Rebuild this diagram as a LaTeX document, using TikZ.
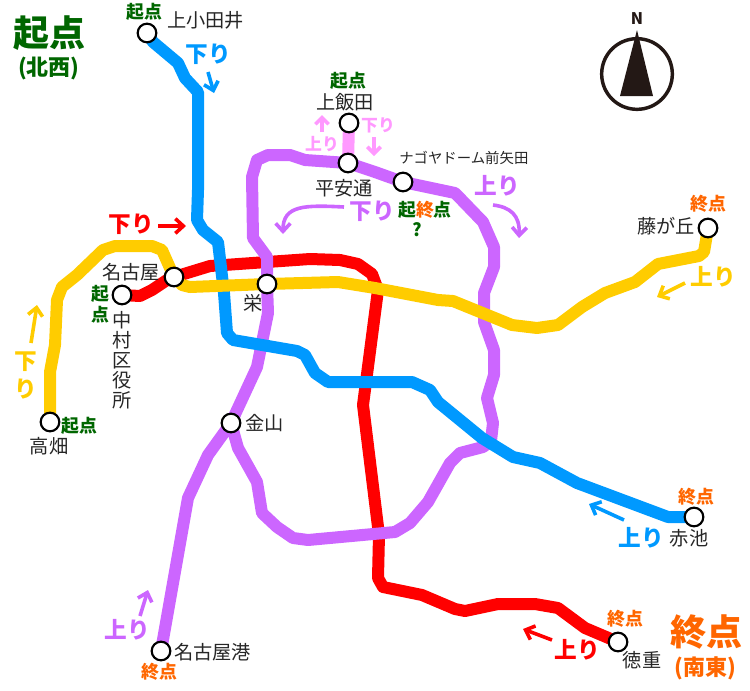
\documentclass[tikz,border=0pt]{standalone}
\usepackage{fontspec}
\setmainfont{Noto Sans CJK JP}
\usepackage{xcolor}
\usetikzlibrary{arrows.meta}
\definecolor{lineblue}{HTML}{0099FF}
\definecolor{linered}{HTML}{FF0000}
\definecolor{lineyellow}{HTML}{FFCC00}
\definecolor{linepurple}{HTML}{CC66FF}
\definecolor{linepink}{HTML}{FF99FF}
\definecolor{startgreen}{HTML}{006600}
\definecolor{endorange}{HTML}{FF6600}
\definecolor{compass}{HTML}{231815}
\tikzset{
	track/.style={line width=9pt, line join=round},
	station/.style={circle, draw=black, fill=white, line width=1.6pt, minimum size=14pt, inner sep=0pt},
	stname/.style={font=\fontsize{14.4}{15}\selectfont, text=black!85, inner sep=0pt},
	startmark/.style={font=\fontsize{13.4}{14}\selectfont\bfseries, text=startgreen, inner sep=0pt},
	endmark/.style={font=\fontsize{13.4}{14}\selectfont\bfseries, text=endorange, inner sep=0pt},
	dirtext/.style={font=\fontsize{17}{18}\selectfont\bfseries, inner sep=0pt},
	dirarrow/.style={line width=2.7pt, -{Straight Barb[length=6pt,width=11pt,line width=2.7pt]}},
}
\begin{document}
\begin{tikzpicture}[x=0.75pt, y=-0.75pt]
	\useasboundingbox (0,0) rectangle (750,690);
	% stations
	\coordinate (kamiotai) at (147,33);
	\coordinate (kamiiida) at (349,123);
	\coordinate (heiando) at (348,163);
	\coordinate (domemae) at (403,182);
	\coordinate (fujigaoka) at (708,228);
	\coordinate (nagoya) at (174,277);
	\coordinate (sakae) at (267,284);
	\coordinate (nakamura) at (122,295);
	\coordinate (takabata) at (50,422);
	\coordinate (kanayama) at (231,423);
	\coordinate (akaike) at (694,517);
	\coordinate (tokushige) at (618,642);
	\coordinate (minato) at (161,651);
	% red
	\draw[track, linered] (nakamura) -- (140,296) -- (152,290) -- (167,280) -- (nagoya) -- (210,266) -- (267,262) -- (310,259)
		-- (340,260) -- (358,264) -- (372,274) -- (378,290) -- (363,405) -- (379,535) -- (378,578) -- (383,587) -- (422,595)
		-- (455,609) -- (465,611) -- (498,604) -- (535,604) -- (558,608) -- (585,628) -- (tokushige);
	% purple
	\draw[track, linepink] (kamiiida) -- (heiando);
	\draw[track, linepurple] (minato) -- (188,498) -- (208,455) -- (kanayama) -- (257,367) -- (268,313) -- (sakae) -- (267,257)
		-- (253,238) -- (252,177) -- (257,160) -- (268,155) -- (290,155) -- (305,160) -- (heiando) -- (375,172) -- (domemae)
		-- (455,193) -- (483,222) -- (494,247) -- (494,267) -- (484,293) -- (484,322) -- (494,350) -- (494,375) -- (487,398)
		-- (493,423) -- (491,441) -- (483,447) -- (460,453) -- (450,463) -- (428,502) -- (410,523) -- (395,532) -- (308,540)
		-- (293,538) -- (277,527) -- (262,513) -- (257,482) -- (238,448) -- (kanayama);
	% blue
	\draw[track, lineblue] (kamiotai) -- (153,42) -- (178,63) -- (185,78) -- (198,92) -- (198,190) -- (197,220) -- (203,230)
		-- (218,242) -- (224,293) -- (227,333) -- (233,340) -- (297,351) -- (305,355) -- (315,373) -- (328,382) -- (412,382)
		-- (430,390) -- (438,402) -- (482,438) -- (513,457) -- (540,463) -- (577,483) -- (668,517) -- (akaike);
	% yellow
	\draw[track, lineyellow] (fujigaoka) -- (704,252) -- (699,256) -- (658,264) -- (635,282) -- (605,293) -- (582,307) -- (558,325)
		-- (537,328) -- (512,325) -- (453,301) -- (438,300) -- (375,288) -- (338,282) -- (sakae) -- (190,287) -- (182,285)
		-- (nagoya) -- (162,250) -- (152,246) -- (115,246) -- (103,250) -- (77,275) -- (62,287) -- (57,300) -- (55,345)
		-- (50,372) -- (takabata);
	\foreach \st in {kamiotai,kamiiida,heiando,domemae,fujigaoka,nagoya,sakae,nakamura,takabata,kanayama,akaike,tokushige,minato}
		\node[station] (st-\st) at (\st) {};
	% station names
	\node[stname, anchor=west] (n-kamiotai) at (167,20) {上小田井};
	\node[stname] (n-kamiiida) at (345,102) {上飯田};
	\node[stname] (n-heiando) at (344,188) {平安通};
	\node[stname, anchor=west, font=\fontsize{10.8}{11}\selectfont] (n-domemae) at (399,158) {ナゴヤドーム前矢田};
	\node[stname, anchor=east] (n-fujigaoka) at (695,226) {藤が丘};
	\node[stname] (n-nagoya) at (131,272) {名古屋};
	\node[stname] (n-sakae) at (253,303) {栄};
	\node[stname, align=center, font=\fontsize{14.4}{15}\selectfont] (n-nakamura) at (122,360) {中\\村\\区\\役\\所};
	\node[stname] (n-takabata) at (49,446) {高畑};
	\node[stname, anchor=west] (n-kanayama) at (245,423) {金山};
	\node[stname] (n-akaike) at (689,538) {赤池};
	\node[stname] (n-tokushige) at (642,660) {徳重};
	\node[stname, anchor=west] (n-minato) at (174,652) {名古屋港};
	% start and end marks
	\node[startmark] (m-kamiotai) at (144,12) {起点};
	\node[startmark] (m-kamiiida) at (348,81) {起点};
	\node[startmark, align=center, font=\fontsize{13.4}{16}\selectfont\bfseries] (m-nakamura) at (100,304) {起\\点};
	\node[startmark] (m-takabata) at (79,426) {起点};
	\node[inner sep=0pt, font=\fontsize{13.4}{14}\selectfont\bfseries] (m-domemae) at (425,210)
		{\textcolor{startgreen}{起}\textcolor{endorange}{終}\textcolor{startgreen}{点}};
	\node[startmark] (m-question) at (417,230) {?};
	\node[endmark] (m-fujigaoka) at (708,204) {終点};
	\node[endmark] (m-akaike) at (696,497) {終点};
	\node[endmark] (m-tokushige) at (625,619) {終点};
	\node[endmark] (m-minato) at (159,672) {終点};
	% big titles
	\node[inner sep=0pt, text=startgreen, font=\fontsize{27}{28}\selectfont\bfseries] (t-start) at (49,33) {起点};
	\node[inner sep=0pt, text=startgreen, font=\fontsize{16.5}{17}\selectfont\bfseries] (t-nw) at (49,68) {(北西)};
	\node[inner sep=0pt, text=endorange, font=\fontsize{27}{28}\selectfont\bfseries] (t-end) at (706,632) {終点};
	\node[inner sep=0pt, text=endorange, font=\fontsize{16.5}{17}\selectfont\bfseries] (t-se) at (705,668) {(南東)};
	% direction labels
	\node[dirtext, text=lineblue] (d-blue1) at (208,54) {下り};
	\node[dirtext, text=lineblue] (d-blue2) at (641,538) {上り};
	\node[dirtext, text=linered] (d-red1) at (131,224) {下り};
	\node[dirtext, text=linered] (d-red2) at (577,650) {上り};
	\node[dirtext, text=lineyellow] (d-yellow1) at (713,277) {上り};
	\node[dirtext, text=lineyellow, align=center, font=\fontsize{17}{21}\selectfont\bfseries] (d-yellow2) at (26,375) {下\\り};
	\node[dirtext, text=linepurple] (d-purple1) at (372,211) {下り};
	\node[dirtext, text=linepurple] (d-purple2) at (497,186) {上り};
	\node[dirtext, text=linepurple] (d-purple3) at (127,630) {上り};
	\node[dirtext, text=linepink, font=\fontsize{12.6}{13}\selectfont\bfseries] (d-pink1) at (322,144) {上り};
	\node[dirtext, text=linepink, font=\fontsize{12.6}{13}\selectfont\bfseries] (d-pink2) at (378,125) {下り};
	% direction arrows
	\draw[dirarrow, lineblue] (208,72) coordinate (a1) -- (214,93);
	\draw[dirarrow, lineblue] (624,520) coordinate (a2) -- (589,504);
	\draw[dirarrow, linered] (158,226) coordinate (a3) -- (186,226);
	\draw[dirarrow, linered] (552,640) coordinate (a4) -- (523,629);
	\draw[dirarrow, lineyellow] (685,283) coordinate (a5) -- (657,297);
	\draw[dirarrow, lineyellow] (31,343) coordinate (a6) -- (37,305);
	\draw[dirarrow, linepurple] (344,207) coordinate (a7) .. controls (305,205) and (283,205) .. (283,234);
	\draw[dirarrow, linepurple] (493,205) coordinate (a8) .. controls (510,207) and (520,215) .. (519,238);
	\draw[dirarrow, linepurple] (140,616) coordinate (a9) -- (148,590);
	\draw[dirarrow, linepink, -{Straight Barb[length=5pt,width=10pt,line width=2.7pt]}] (322,132) coordinate (a10) -- (322,115);
	\draw[dirarrow, linepink, -{Straight Barb[length=5pt,width=10pt,line width=2.7pt]}] (374,137) coordinate (a11) -- (374,156);
	% north mark
	\node[circle, draw=compass, line width=2.6pt, minimum size=53pt, inner sep=0pt] (northring) at (637,74) {};
	\fill[compass] (637,30) -- (653,96) -- (620,96) -- cycle;
	\node[inner sep=0pt, text=compass, font=\fontsize{12}{13}\selectfont\bfseries] (northlabel) at (637,19) {N};
\end{tikzpicture}
\end{document}
